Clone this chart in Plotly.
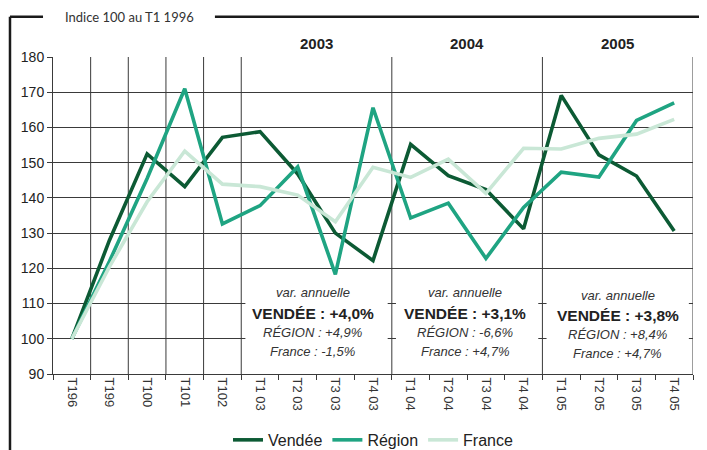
import plotly.graph_objects as go

categories = ["T196", "T199", "T100", "T101", "T102",
              "T1 03", "T2 03", "T3 03", "T4 03",
              "T1 04", "T2 04", "T3 04", "T4 04",
              "T1 05", "T2 05", "T3 05", "T4 05"]
vendee = [100, 128, 152.5, 143.2, 157.2, 158.8, 146.8, 130, 122.2,
          155.2, 146.3, 142.4, 131.2, 169.1, 152.2, 146.2, 130.6]
region = [100, 122, 145.5, 171, 132.6, 137.8, 148.8, 118.3, 165.6,
          134.3, 138.5, 122.8, 137.3, 147.3, 145.9, 162, 167]
france = [100, 120.5, 138.9, 153.3, 143.9, 143.2, 140.8, 133.2, 148.7,
          145.8, 151, 141.3, 154.1, 153.9, 156.9, 158.1, 162.3]

series_names = ["Vendée", "Région", "France"]
series_colors = ["#0c5a34", "#1fa482", "#c9e7d6"]

years = ["2003", "2004", "2005"]
year_first_idx = [5, 9, 13]
year_len = 4
early_boundaries = [0.5, 1.5, 2.5, 3.5, 4.5]

box_lines = [
    ["var. annuelle", "VENDÉE : +4,0%", "RÉGION : +4,9%", "France : -1,5%"],
    ["var. annuelle", "VENDÉE : +3,1%", "RÉGION : -6,6%", "France : +4,7%"],
    ["var. annuelle", "VENDÉE : +3,8%", "RÉGION : +8,4%", "France : +4,7%"],
]
box_centers = [6.4, 10.45, 14.5]
box_dy = [0, 0, -0.8]

fig = go.Figure()
for name, vals, col in zip(series_names, [vendee, region, france], series_colors):
    fig.add_trace(go.Scatter(x=categories, y=vals, mode="lines", name=name,
                             line=dict(color=col, width=3.6)))

shapes = []
gridcol = "#3a3a3a"
# vertical separators
for b in early_boundaries + [year_first_idx[i] - 0.5 for i in range(1, 3)] + [len(categories) - 0.5]:
    shapes.append(dict(type="line", xref="x", yref="y", x0=b, x1=b, y0=90, y1=180,
                       line=dict(color=gridcol, width=1), layer="between"))
# white boxes behind annual-variation texts
for fi in year_first_idx:
    shapes.append(dict(type="rect", xref="x", yref="y", x0=fi - 0.5 + 0.11, x1=fi + year_len - 0.5 - 0.11,
                       y0=91, y1=117.6, fillcolor="white", line=dict(width=0), layer="between"))
# outer frame
shapes.append(dict(type="line", xref="paper", yref="paper", x0=-0.0672, x1=-0.0672, y0=1.127, y1=-0.25,
                   line=dict(color="#1a1a1a", width=2.5)))
shapes.append(dict(type="line", xref="paper", yref="paper", x0=-0.0672, x1=-0.0156, y0=1.127, y1=1.127,
                   line=dict(color="#1a1a1a", width=2.5)))
shapes.append(dict(type="line", xref="paper", yref="paper", x0=0.253, x1=1.03, y0=1.127, y1=1.127,
                   line=dict(color="#1a1a1a", width=2.5)))

annotations = [dict(text="Indice 100 au T1 1996", xref="paper", yref="paper", x=0.12, y=1.127,
                    showarrow=False, xanchor="center", yanchor="middle",
                    font=dict(family="Lato, Liberation Sans, Arial", size=13, color="#333"))]
for yr, fi in zip(years, year_first_idx):
    annotations.append(dict(text="<b>" + yr + "</b>", xref="x", yref="paper", x=fi + 1.5, y=1.044,
                            showarrow=False, xanchor="center", yanchor="middle",
                            font=dict(family="Liberation Sans, Arial", size=15, color="#222")))
for lines, cx, dy in zip(box_lines, box_centers, box_dy):
    ys = [113.1 + dy, 107.3 + dy, 101.9 + dy, 96.5 + dy]
    for k, (t, yv) in enumerate(zip(lines, ys)):
        if k == 1:
            txt = "<b>" + t + "</b>"
            fnt = dict(family="Liberation Sans, Arial", size=15.5, color="#222")
        else:
            txt = "<i>" + t + "</i>"
            fnt = dict(family="Liberation Sans, Arial", size=13, color="#333")
        annotations.append(dict(text=txt, xref="x", yref="y", x=cx, y=yv, showarrow=False,
                                xanchor="center", yanchor="middle", font=fnt))

# page body has an 8px margin: figure is sized so that it fills the 707x450 window
fig.update_layout(
    width=699, height=442,
    margin=dict(l=45, r=14, t=49, b=76, autoexpand=False),
    paper_bgcolor="white", plot_bgcolor="white",
    showlegend=True,
    legend=dict(orientation="h", x=0.5, xanchor="center", y=-0.208, yanchor="middle",
                font=dict(family="Liberation Sans Narrow, Arial Narrow, Liberation Sans", size=16, color="#222"),
                itemwidth=30, tracegroupgap=0, bgcolor="rgba(0,0,0,0)"),
    shapes=shapes, annotations=annotations,
)
fig.update_xaxes(type="category", range=[-0.5, len(categories) - 0.5], tickson="boundaries",
                 ticks="outside", ticklen=5, tickcolor=gridcol, tickangle=90, automargin=False,
                 showgrid=False, showline=True, linecolor=gridcol, linewidth=1,
                 tickfont=dict(family="Liberation Sans, Arial", size=13, color="#333"), zeroline=False)
fig.update_yaxes(range=[90, 180], dtick=10, tick0=90, ticks="outside", ticklen=5, tickcolor=gridcol,
                 automargin=False,
                 showgrid=True, gridcolor=gridcol, gridwidth=1, showline=True, linecolor=gridcol,
                 tickfont=dict(family="Liberation Sans, Arial", size=14, color="#222"), zeroline=False)

fig.write_html("out.html")
